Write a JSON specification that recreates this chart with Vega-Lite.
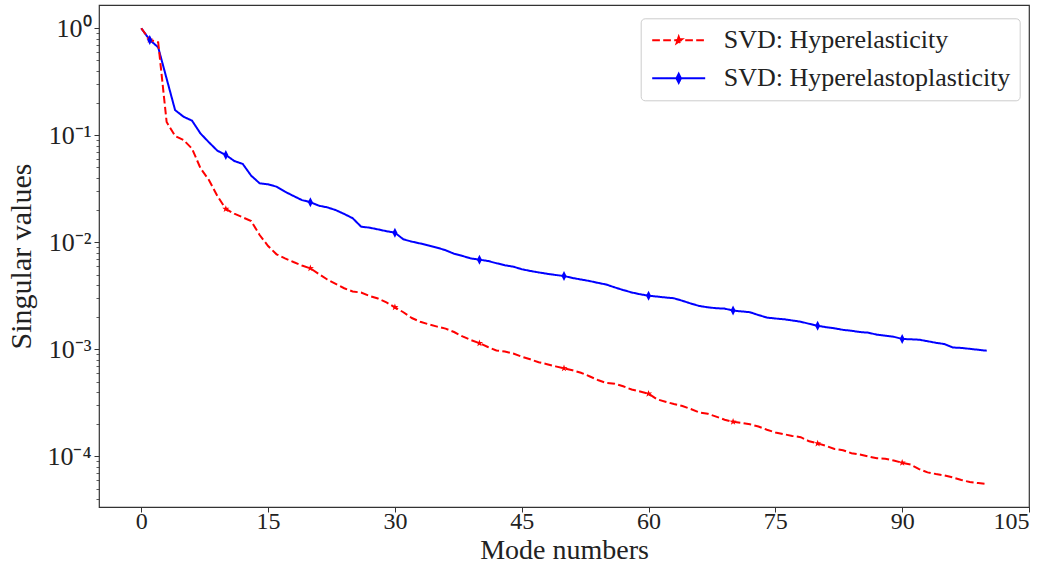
{
  "$schema": "https://vega.github.io/schema/vega-lite/v6.json",
  "width": 930,
  "height": 502,
  "autosize": {"type": "none"},
  "padding": {"left": 99, "top": 5, "right": 20, "bottom": 60},
  "background": "white",
  "config": {
    "view": {"stroke": "#333333", "strokeWidth": 1.2},
    "axis": {
      "domain": false, "grid": false, "tickColor": "#333333", "tickWidth": 1, "tickSize": 5,
      "labelFont": "Liberation Serif", "labelFontSize": 24, "labelColor": "#222222",
      "titleFont": "Liberation Serif", "titleFontSize": 29, "titleFontWeight": "normal", "titleColor": "#222222"
    },
    "legend": {
      "orient": "none", "legendX": 541.7, "legendY": 13.3,
      "padding": 9, "fillColor": "rgba(255,255,255,0.8)", "strokeColor": "#cccccc", "cornerRadius": 4,
      "labelFont": "Liberation Serif", "labelFontSize": 26, "labelColor": "#222222", "labelLimit": 400,
      "symbolSize": 400, "symbolOffset": 16, "labelOffset": 32, "rowPadding": 12, "symbolStrokeWidth": 2
    }
  },
  "data": {"values": [
    {"series":"SVD: Hyperelastoplasticity","mode":0,"value":1.0},
    {"series":"SVD: Hyperelastoplasticity","mode":1,"value":0.778},
    {"series":"SVD: Hyperelastoplasticity","mode":2,"value":0.664},
    {"series":"SVD: Hyperelastoplasticity","mode":3,"value":0.338},
    {"series":"SVD: Hyperelastoplasticity","mode":4,"value":0.172},
    {"series":"SVD: Hyperelastoplasticity","mode":5,"value":0.149},
    {"series":"SVD: Hyperelastoplasticity","mode":6,"value":0.137},
    {"series":"SVD: Hyperelastoplasticity","mode":7,"value":0.104},
    {"series":"SVD: Hyperelastoplasticity","mode":8,"value":0.086},
    {"series":"SVD: Hyperelastoplasticity","mode":9,"value":0.0718},
    {"series":"SVD: Hyperelastoplasticity","mode":10,"value":0.0655},
    {"series":"SVD: Hyperelastoplasticity","mode":11,"value":0.0575},
    {"series":"SVD: Hyperelastoplasticity","mode":12,"value":0.054},
    {"series":"SVD: Hyperelastoplasticity","mode":13,"value":0.0419},
    {"series":"SVD: Hyperelastoplasticity","mode":14,"value":0.0356},
    {"series":"SVD: Hyperelastoplasticity","mode":15,"value":0.0348},
    {"series":"SVD: Hyperelastoplasticity","mode":16,"value":0.0331},
    {"series":"SVD: Hyperelastoplasticity","mode":17,"value":0.0297},
    {"series":"SVD: Hyperelastoplasticity","mode":18,"value":0.0271},
    {"series":"SVD: Hyperelastoplasticity","mode":19,"value":0.0248},
    {"series":"SVD: Hyperelastoplasticity","mode":20,"value":0.0237},
    {"series":"SVD: Hyperelastoplasticity","mode":21,"value":0.0220},
    {"series":"SVD: Hyperelastoplasticity","mode":22,"value":0.0212},
    {"series":"SVD: Hyperelastoplasticity","mode":23,"value":0.0200},
    {"series":"SVD: Hyperelastoplasticity","mode":24,"value":0.0184},
    {"series":"SVD: Hyperelastoplasticity","mode":25,"value":0.0168},
    {"series":"SVD: Hyperelastoplasticity","mode":26,"value":0.0140},
    {"series":"SVD: Hyperelastoplasticity","mode":27,"value":0.0137},
    {"series":"SVD: Hyperelastoplasticity","mode":28,"value":0.0132},
    {"series":"SVD: Hyperelastoplasticity","mode":29,"value":0.0127},
    {"series":"SVD: Hyperelastoplasticity","mode":30,"value":0.0123},
    {"series":"SVD: Hyperelastoplasticity","mode":31,"value":0.01066},
    {"series":"SVD: Hyperelastoplasticity","mode":32,"value":0.01014},
    {"series":"SVD: Hyperelastoplasticity","mode":33,"value":0.00975},
    {"series":"SVD: Hyperelastoplasticity","mode":34,"value":0.00933},
    {"series":"SVD: Hyperelastoplasticity","mode":35,"value":0.00891},
    {"series":"SVD: Hyperelastoplasticity","mode":36,"value":0.00842},
    {"series":"SVD: Hyperelastoplasticity","mode":37,"value":0.00782},
    {"series":"SVD: Hyperelastoplasticity","mode":38,"value":0.00745},
    {"series":"SVD: Hyperelastoplasticity","mode":39,"value":0.00706},
    {"series":"SVD: Hyperelastoplasticity","mode":40,"value":0.00688},
    {"series":"SVD: Hyperelastoplasticity","mode":41,"value":0.00669},
    {"series":"SVD: Hyperelastoplasticity","mode":42,"value":0.00638},
    {"series":"SVD: Hyperelastoplasticity","mode":43,"value":0.00610},
    {"series":"SVD: Hyperelastoplasticity","mode":44,"value":0.00592},
    {"series":"SVD: Hyperelastoplasticity","mode":45,"value":0.00560},
    {"series":"SVD: Hyperelastoplasticity","mode":46,"value":0.00540},
    {"series":"SVD: Hyperelastoplasticity","mode":47,"value":0.00523},
    {"series":"SVD: Hyperelastoplasticity","mode":48,"value":0.00508},
    {"series":"SVD: Hyperelastoplasticity","mode":49,"value":0.00495},
    {"series":"SVD: Hyperelastoplasticity","mode":50,"value":0.00484},
    {"series":"SVD: Hyperelastoplasticity","mode":51,"value":0.00464},
    {"series":"SVD: Hyperelastoplasticity","mode":52,"value":0.00449},
    {"series":"SVD: Hyperelastoplasticity","mode":53,"value":0.00435},
    {"series":"SVD: Hyperelastoplasticity","mode":54,"value":0.00418},
    {"series":"SVD: Hyperelastoplasticity","mode":55,"value":0.00403},
    {"series":"SVD: Hyperelastoplasticity","mode":56,"value":0.00379},
    {"series":"SVD: Hyperelastoplasticity","mode":57,"value":0.00358},
    {"series":"SVD: Hyperelastoplasticity","mode":58,"value":0.00340},
    {"series":"SVD: Hyperelastoplasticity","mode":59,"value":0.00327},
    {"series":"SVD: Hyperelastoplasticity","mode":60,"value":0.00317},
    {"series":"SVD: Hyperelastoplasticity","mode":61,"value":0.00311},
    {"series":"SVD: Hyperelastoplasticity","mode":62,"value":0.00305},
    {"series":"SVD: Hyperelastoplasticity","mode":63,"value":0.00300},
    {"series":"SVD: Hyperelastoplasticity","mode":64,"value":0.00284},
    {"series":"SVD: Hyperelastoplasticity","mode":65,"value":0.00268},
    {"series":"SVD: Hyperelastoplasticity","mode":66,"value":0.00254},
    {"series":"SVD: Hyperelastoplasticity","mode":67,"value":0.00247},
    {"series":"SVD: Hyperelastoplasticity","mode":68,"value":0.00242},
    {"series":"SVD: Hyperelastoplasticity","mode":69,"value":0.00240},
    {"series":"SVD: Hyperelastoplasticity","mode":70,"value":0.00230},
    {"series":"SVD: Hyperelastoplasticity","mode":71,"value":0.00226},
    {"series":"SVD: Hyperelastoplasticity","mode":72,"value":0.00222},
    {"series":"SVD: Hyperelastoplasticity","mode":73,"value":0.00209},
    {"series":"SVD: Hyperelastoplasticity","mode":74,"value":0.00198},
    {"series":"SVD: Hyperelastoplasticity","mode":75,"value":0.00194},
    {"series":"SVD: Hyperelastoplasticity","mode":76,"value":0.00191},
    {"series":"SVD: Hyperelastoplasticity","mode":77,"value":0.00186},
    {"series":"SVD: Hyperelastoplasticity","mode":78,"value":0.00181},
    {"series":"SVD: Hyperelastoplasticity","mode":79,"value":0.00173},
    {"series":"SVD: Hyperelastoplasticity","mode":80,"value":0.00166},
    {"series":"SVD: Hyperelastoplasticity","mode":81,"value":0.00161},
    {"series":"SVD: Hyperelastoplasticity","mode":82,"value":0.00157},
    {"series":"SVD: Hyperelastoplasticity","mode":83,"value":0.00152},
    {"series":"SVD: Hyperelastoplasticity","mode":84,"value":0.00149},
    {"series":"SVD: Hyperelastoplasticity","mode":85,"value":0.00145},
    {"series":"SVD: Hyperelastoplasticity","mode":86,"value":0.00143},
    {"series":"SVD: Hyperelastoplasticity","mode":87,"value":0.00137},
    {"series":"SVD: Hyperelastoplasticity","mode":88,"value":0.00134},
    {"series":"SVD: Hyperelastoplasticity","mode":89,"value":0.00131},
    {"series":"SVD: Hyperelastoplasticity","mode":90,"value":0.00125},
    {"series":"SVD: Hyperelastoplasticity","mode":91,"value":0.00124},
    {"series":"SVD: Hyperelastoplasticity","mode":92,"value":0.00123},
    {"series":"SVD: Hyperelastoplasticity","mode":93,"value":0.00119},
    {"series":"SVD: Hyperelastoplasticity","mode":94,"value":0.00115},
    {"series":"SVD: Hyperelastoplasticity","mode":95,"value":0.00112},
    {"series":"SVD: Hyperelastoplasticity","mode":96,"value":0.00104},
    {"series":"SVD: Hyperelastoplasticity","mode":97,"value":0.00103},
    {"series":"SVD: Hyperelastoplasticity","mode":98,"value":0.00101},
    {"series":"SVD: Hyperelastoplasticity","mode":99,"value":0.00099},
    {"series":"SVD: Hyperelastoplasticity","mode":100,"value":0.00097},
    {"series":"SVD: Hyperelasticity","mode":0,"value":1.0},
    {"series":"SVD: Hyperelasticity","mode":1,"value":0.78},
    {"series":"SVD: Hyperelasticity","mode":2,"value":0.74},
    {"series":"SVD: Hyperelasticity","mode":3,"value":0.133},
    {"series":"SVD: Hyperelasticity","mode":4,"value":0.0985},
    {"series":"SVD: Hyperelasticity","mode":5,"value":0.0903},
    {"series":"SVD: Hyperelasticity","mode":6,"value":0.075},
    {"series":"SVD: Hyperelasticity","mode":7,"value":0.0494},
    {"series":"SVD: Hyperelasticity","mode":8,"value":0.0382},
    {"series":"SVD: Hyperelasticity","mode":9,"value":0.0271},
    {"series":"SVD: Hyperelasticity","mode":10,"value":0.0205},
    {"series":"SVD: Hyperelasticity","mode":11,"value":0.0185},
    {"series":"SVD: Hyperelasticity","mode":12,"value":0.0171},
    {"series":"SVD: Hyperelasticity","mode":13,"value":0.0158},
    {"series":"SVD: Hyperelasticity","mode":14,"value":0.0117},
    {"series":"SVD: Hyperelasticity","mode":15,"value":0.00923},
    {"series":"SVD: Hyperelasticity","mode":16,"value":0.00772},
    {"series":"SVD: Hyperelasticity","mode":17,"value":0.00708},
    {"series":"SVD: Hyperelasticity","mode":18,"value":0.00654},
    {"series":"SVD: Hyperelasticity","mode":19,"value":0.00607},
    {"series":"SVD: Hyperelasticity","mode":20,"value":0.00571},
    {"series":"SVD: Hyperelasticity","mode":21,"value":0.00506},
    {"series":"SVD: Hyperelasticity","mode":22,"value":0.00449},
    {"series":"SVD: Hyperelasticity","mode":23,"value":0.00408},
    {"series":"SVD: Hyperelasticity","mode":24,"value":0.00372},
    {"series":"SVD: Hyperelasticity","mode":25,"value":0.00347},
    {"series":"SVD: Hyperelasticity","mode":26,"value":0.00339},
    {"series":"SVD: Hyperelasticity","mode":27,"value":0.00315},
    {"series":"SVD: Hyperelasticity","mode":28,"value":0.00298},
    {"series":"SVD: Hyperelasticity","mode":29,"value":0.00274},
    {"series":"SVD: Hyperelasticity","mode":30,"value":0.00247},
    {"series":"SVD: Hyperelasticity","mode":31,"value":0.00222},
    {"series":"SVD: Hyperelasticity","mode":32,"value":0.00196},
    {"series":"SVD: Hyperelasticity","mode":33,"value":0.00181},
    {"series":"SVD: Hyperelasticity","mode":34,"value":0.00171},
    {"series":"SVD: Hyperelasticity","mode":35,"value":0.00163},
    {"series":"SVD: Hyperelasticity","mode":36,"value":0.00156},
    {"series":"SVD: Hyperelasticity","mode":37,"value":0.00145},
    {"series":"SVD: Hyperelasticity","mode":38,"value":0.00132},
    {"series":"SVD: Hyperelasticity","mode":39,"value":0.00122},
    {"series":"SVD: Hyperelasticity","mode":40,"value":0.00114},
    {"series":"SVD: Hyperelasticity","mode":41,"value":0.00105},
    {"series":"SVD: Hyperelasticity","mode":42,"value":0.000975},
    {"series":"SVD: Hyperelasticity","mode":43,"value":0.000953},
    {"series":"SVD: Hyperelasticity","mode":44,"value":0.000914},
    {"series":"SVD: Hyperelasticity","mode":45,"value":0.000853},
    {"series":"SVD: Hyperelasticity","mode":46,"value":0.000807},
    {"series":"SVD: Hyperelasticity","mode":47,"value":0.000757},
    {"series":"SVD: Hyperelasticity","mode":48,"value":0.000726},
    {"series":"SVD: Hyperelasticity","mode":49,"value":0.000693},
    {"series":"SVD: Hyperelasticity","mode":50,"value":0.000664},
    {"series":"SVD: Hyperelasticity","mode":51,"value":0.000637},
    {"series":"SVD: Hyperelasticity","mode":52,"value":0.000604},
    {"series":"SVD: Hyperelasticity","mode":53,"value":0.000560},
    {"series":"SVD: Hyperelasticity","mode":54,"value":0.000517},
    {"series":"SVD: Hyperelasticity","mode":55,"value":0.000485},
    {"series":"SVD: Hyperelasticity","mode":56,"value":0.000476},
    {"series":"SVD: Hyperelasticity","mode":57,"value":0.000451},
    {"series":"SVD: Hyperelasticity","mode":58,"value":0.000421},
    {"series":"SVD: Hyperelasticity","mode":59,"value":0.000403},
    {"series":"SVD: Hyperelasticity","mode":60,"value":0.000385},
    {"series":"SVD: Hyperelasticity","mode":61,"value":0.000341},
    {"series":"SVD: Hyperelasticity","mode":62,"value":0.000324},
    {"series":"SVD: Hyperelasticity","mode":63,"value":0.000308},
    {"series":"SVD: Hyperelasticity","mode":64,"value":0.000295},
    {"series":"SVD: Hyperelasticity","mode":65,"value":0.000277},
    {"series":"SVD: Hyperelasticity","mode":66,"value":0.000257},
    {"series":"SVD: Hyperelasticity","mode":67,"value":0.000250},
    {"series":"SVD: Hyperelasticity","mode":68,"value":0.000235},
    {"series":"SVD: Hyperelasticity","mode":69,"value":0.000220},
    {"series":"SVD: Hyperelasticity","mode":70,"value":0.000210},
    {"series":"SVD: Hyperelasticity","mode":71,"value":0.000205},
    {"series":"SVD: Hyperelasticity","mode":72,"value":0.000199},
    {"series":"SVD: Hyperelasticity","mode":73,"value":0.000190},
    {"series":"SVD: Hyperelasticity","mode":74,"value":0.000177},
    {"series":"SVD: Hyperelasticity","mode":75,"value":0.000167},
    {"series":"SVD: Hyperelasticity","mode":76,"value":0.000161},
    {"series":"SVD: Hyperelasticity","mode":77,"value":0.000155},
    {"series":"SVD: Hyperelasticity","mode":78,"value":0.000151},
    {"series":"SVD: Hyperelasticity","mode":79,"value":0.000138},
    {"series":"SVD: Hyperelasticity","mode":80,"value":0.000132},
    {"series":"SVD: Hyperelasticity","mode":81,"value":0.000125},
    {"series":"SVD: Hyperelasticity","mode":82,"value":0.000117},
    {"series":"SVD: Hyperelasticity","mode":83,"value":0.000114},
    {"series":"SVD: Hyperelasticity","mode":84,"value":0.000107},
    {"series":"SVD: Hyperelasticity","mode":85,"value":0.000104},
    {"series":"SVD: Hyperelasticity","mode":86,"value":0.0000998},
    {"series":"SVD: Hyperelasticity","mode":87,"value":0.0000958},
    {"series":"SVD: Hyperelasticity","mode":88,"value":0.0000950},
    {"series":"SVD: Hyperelasticity","mode":89,"value":0.0000914},
    {"series":"SVD: Hyperelasticity","mode":90,"value":0.0000871},
    {"series":"SVD: Hyperelasticity","mode":91,"value":0.0000838},
    {"series":"SVD: Hyperelasticity","mode":92,"value":0.0000760},
    {"series":"SVD: Hyperelasticity","mode":93,"value":0.0000708},
    {"series":"SVD: Hyperelasticity","mode":94,"value":0.0000683},
    {"series":"SVD: Hyperelasticity","mode":95,"value":0.0000662},
    {"series":"SVD: Hyperelasticity","mode":96,"value":0.0000634},
    {"series":"SVD: Hyperelasticity","mode":97,"value":0.0000601},
    {"series":"SVD: Hyperelasticity","mode":98,"value":0.0000575},
    {"series":"SVD: Hyperelasticity","mode":99,"value":0.0000562},
    {"series":"SVD: Hyperelasticity","mode":100,"value":0.0000551}
  ]},
  "resolve": {"scale": {"y": "shared", "x": "shared"}, "axis": {"y": "independent"}},
  "layer": [
    {
      "mark": {"type": "line", "strokeWidth": 2, "clip": true},
      "encoding": {
        "x": {"field": "mode", "type": "quantitative", "scale": {"domain": [-5, 105], "nice": false, "zero": false},
              "axis": {"values": [0, 15, 30, 45, 60, 75, 90, 105], "title": "Mode numbers", "labelPadding": -3, "titlePadding": 3, "titleFontSize": 28}},
        "y": {"field": "value", "type": "quantitative", "scale": {"type": "log", "domain": [0.0000336, 1.65], "nice": false},
              "axis": {"orient": "left", "values": [0.0001, 0.001, 0.01, 0.1, 1], "title": "Singular values", "labelPadding": 3, "titlePadding": 10, "titleFontSize": 30, "labelFontSize": 26,
                       "labelExpr": "datum.value >= 0.5 ? '10⁰' : datum.value >= 0.05 ? '10⁻¹' : datum.value >= 0.005 ? '10⁻²' : datum.value >= 0.0005 ? '10⁻³' : '10⁻⁴'"}},
        "color": {"field": "series", "type": "nominal",
                  "scale": {"domain": ["SVD: Hyperelasticity", "SVD: Hyperelastoplasticity"], "range": ["#ff0000", "#0000ff"]},
                  "legend": {"title": null, "labelFont": "Liberation Serif", "labelFontSize": 26,
                    "encode": {"symbols": {"update": {
                      "shape": {"signal": "datum.value === 'SVD: Hyperelasticity' ? 'M-2.65,0H2.65M0,-0.35L0.082,-0.113L0.333,-0.108L0.133,0.043L0.206,0.283L0,0.14L-0.206,0.283L-0.133,0.043L-0.333,-0.108L-0.082,-0.113Z' : 'M-2.65,0H2.65M0,-0.45L0.22,0L0,0.45L-0.22,0Z'"},
                      "fill": {"signal": "datum.value === 'SVD: Hyperelasticity' ? '#ff0000' : '#0000ff'"},
                      "strokeWidth": {"value": 2}
                    }}}}},
        "strokeDash": {"field": "series", "type": "nominal",
                       "scale": {"domain": ["SVD: Hyperelasticity", "SVD: Hyperelastoplasticity"], "range": [[7.7, 3.3], [1, 0]]},
                       "legend": {"title": null}}
      }
    },
    {
      "transform": [{"filter": "datum.series == 'SVD: Hyperelasticity' && (datum.mode == 1 || (datum.mode % 10 == 0 && datum.mode > 0 && datum.mode < 100))"}],
      "mark": {"type": "point", "filled": true, "opacity": 1, "color": "#ff0000", "size": 56,
               "shape": "M0,-1L0.235,-0.324L0.951,-0.309L0.38,0.124L0.588,0.809L0,0.4L-0.588,0.809L-0.38,0.124L-0.951,-0.309L-0.235,-0.324Z"},
      "encoding": {
        "x": {"field": "mode", "type": "quantitative"},
        "y": {"field": "value", "type": "quantitative",
              "axis": {"orient": "left", "title": null, "labels": false, "tickSize": 3, "tickWidth": 0.8,
                       "values": [0.00004, 0.00005, 0.00006, 0.00007, 0.00008, 0.00009, 0.0002, 0.0003, 0.0004, 0.0005, 0.0006, 0.0007, 0.0008, 0.0009, 0.002, 0.003, 0.004, 0.005, 0.006, 0.007, 0.008, 0.009, 0.02, 0.03, 0.04, 0.05, 0.06, 0.07, 0.08, 0.09, 0.2, 0.3, 0.4, 0.5, 0.6, 0.7, 0.8, 0.9]}}
      }
    },
    {
      "transform": [{"filter": "datum.series == 'SVD: Hyperelastoplasticity' && (datum.mode == 1 || (datum.mode % 10 == 0 && datum.mode > 0 && datum.mode < 100))"}],
      "mark": {"type": "point", "filled": true, "opacity": 1, "color": "#0000ff", "size": 100, "shape": "M0,-1L0.5,0L0,1L-0.5,0Z"},
      "encoding": {
        "x": {"field": "mode", "type": "quantitative"},
        "y": {"field": "value", "type": "quantitative", "axis": null}
      }
    }
  ]
}
